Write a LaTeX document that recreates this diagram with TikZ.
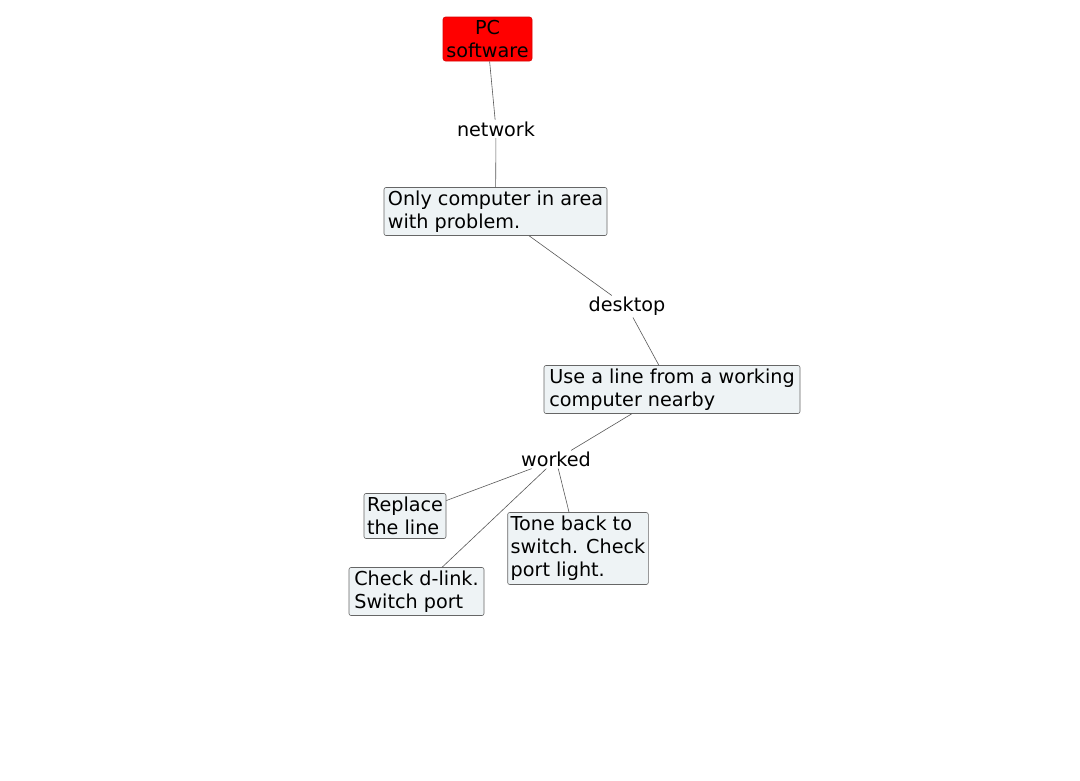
\documentclass[tikz,border=0pt]{standalone}
\usepackage{fontspec}
\setmainfont{DejaVu Sans}
\begin{document}
\begin{tikzpicture}[x=1pt,y=-1pt,
  every node/.style={font=\fontsize{19.2}{23}\selectfont},
  topic/.style={draw=red!85!black, fill=red, rounded corners=2.5pt, align=center,
    inner sep=2pt, line width=0.6pt},
  card/.style={draw=black!60, fill={rgb,255:red,238;green,243;blue,245}, rounded corners=2pt,
    align=left, inner sep=3pt, line width=0.6pt},
  tag/.style={inner sep=1.5pt},
  link/.style={draw=black!65, line width=0.6pt}]
\useasboundingbox (0,0) rectangle (1080,780);
\fill[white] (0,0) rectangle (1080,780);

% main chain
\node[topic, minimum width=89, minimum height=44] (pc) at (487.5,39) {PC\\software};
\node[tag] (net) at (496,129) {network};
\node[card, minimum width=223, minimum height=48] (b1) at (495.5,211.5)
  {Only computer in area\\with problem.};
\node[tag] (desk) at (627,306.5) {desktop};
\node[card, minimum width=256, minimum height=48] (b2) at (672,389.5)
  {Use a line from a working\\computer nearby};
\node[tag] (work) at (556,459.5) {worked};

% outcomes
\node[card, minimum width=82, minimum height=45] (rep) at (405,516) {Replace\\the line};
\node[card, minimum width=135, minimum height=48] (chk) at (416.5,591.5) {Check d-link.\\Switch port};
\node[card, minimum width=140, minimum height=72] (tone) at (578,548.5)
  {Tone back to\\switch. Check\\port light.};

% connectors
\draw[link] (pc) -- (net);
\draw[link] (net) -- (b1);
\draw[link] (b1) -- (desk);
\draw[link] (desk) -- (b2);
\draw[link] (b2) -- (work);
\draw[link] (work) -- (rep);
\draw[link] (work) -- (chk);
\draw[link] (work) -- (tone);
\end{tikzpicture}
\end{document}
